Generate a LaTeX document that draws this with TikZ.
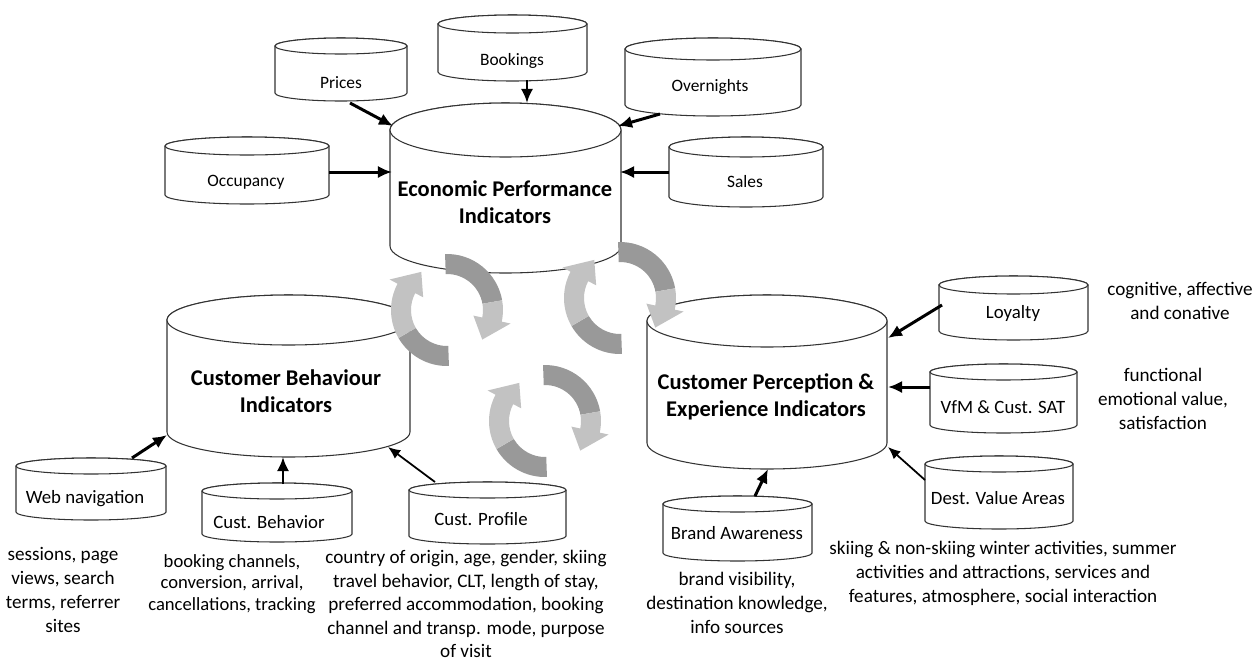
\documentclass[tikz,border=0pt]{standalone}
\usepackage{fontspec}
\setmainfont{Carlito}
\usetikzlibrary{arrows.meta}
\definecolor{darkarr}{gray}{0.6}
\definecolor{lightarr}{gray}{0.76}
\tikzset{
  cyl/.style={draw=black!80, line width=0.6pt, fill=white},
  lbl/.style={font=\fontsize{9.9}{11}\selectfont, inner sep=0pt},
  lblb/.style={font=\fontsize{10.7}{12}\selectfont, inner sep=0pt},
  big/.style={font=\fontsize{12.8}{15.2}\selectfont\bfseries, align=center, inner sep=0pt},
  desc/.style={font=\fontsize{10.9}{13.7}\selectfont, align=center, inner sep=0pt},
  descn/.style={font=\fontsize{10.6}{12.4}\selectfont, align=center, inner sep=0pt},
  desct/.style={font=\fontsize{10.9}{13.4}\selectfont, align=center, inner sep=0pt},
  arr/.style={draw, line width=1.7pt, -{Latex[length=8pt,width=7pt]}},
  thinarr/.style={draw, line width=1pt, -{Latex[length=7pt,width=6pt]}},
}
% #1 name, #2 left, #3 right, #4 top ellipse centre y, #5 bottom ellipse centre y, #6 y radius
\newcommand\mycyl[6]{%
  \pgfmathsetmacro\cylcx{(#2+#3)/2}%
  \pgfmathsetmacro\cylrx{(#3-#2)/2}%
  \path[cyl] (#2,#4) -- (#2,#5) arc[start angle=180, end angle=0, x radius=\cylrx, y radius=#6]
     -- (#3,#4) arc[start angle=0, end angle=-180, x radius=\cylrx, y radius=#6] -- cycle;
  \draw[cyl] (\cylcx,#4) ellipse[x radius=\cylrx, y radius=#6];
  \coordinate (#1) at (\cylcx,#4);
}
% curved block arrow: tail angle, colour split angle, head base angle, tip angle
\newcommand\ribbon[4]{%
  \fill[darkarr] (#1:56) arc[start angle=#1, end angle=#2, radius=56] -- (#2:36)
     arc[start angle=#2, end angle=#1, radius=36] -- cycle;
  \fill[lightarr] (#2:56) arc[start angle=#2, end angle=#3, radius=56] -- (#3:65) -- (#4:46)
     -- (#3:27) -- (#3:36) arc[start angle=#3, end angle=#2, radius=36] -- cycle;
}
\newcommand\cyclepair[2]{%
  \begin{scope}[shift={(#1,#2)}, yscale=-1]
    \ribbon{272}{210}{152}{124}
    \ribbon{92}{10}{-12}{-40}
  \end{scope}}
\begin{document}
\begin{tikzpicture}[x=0.02cm, y=-0.02cm]
\useasboundingbox (0,0) rectangle (1255,664);

% ---------- cylinders ----------
\mycyl{prices}{275}{407}{46}{93}{8}
\mycyl{bookings}{438}{587}{24}{72}{9}
\mycyl{overnights}{625}{801}{49}{105}{11}
\mycyl{occupancy}{165}{329}{146}{195}{9}
\mycyl{sales}{669}{823}{147}{197}{10}
\mycyl{epi}{390}{621}{130}{246}{27}
\mycyl{cbi}{167}{410}{320}{432}{25}
\mycyl{cpe}{647}{887}{321}{443}{26}
\mycyl{loyalty}{939}{1088}{285}{331}{9}
\mycyl{vfm}{930}{1077}{372}{425}{8}
\mycyl{dest}{925}{1073}{464}{521}{8}
\mycyl{brand}{663}{812}{504}{553}{8}
\mycyl{web}{16}{166}{466}{512}{8}
\mycyl{cbeh}{202}{352}{491}{534}{8}
\mycyl{cprof}{409}{566}{490}{536}{8}

% ---------- cylinder labels ----------
\node[lbl] (l-prices) at (341,83) {Prices};
\node[lbl] (l-bookings) at (512,61) {Bookings};
\node[lbl] (l-overnights) at (710,87) {Overnights};
\node[lbl] (l-occupancy) at (246,182) {Occupancy};
\node[lbl] (l-sales) at (745,182) {Sales};
\node[big] (l-epi) at (505,202) {Economic Performance\\Indicators};
\node[big] (l-cbi) at (286,391) {Customer Behaviour\\Indicators};
\node[big] (l-cpe) at (766,397) {Customer Perception \&\\Experience Indicators};
\node[lblb] (l-loyalty) at (1013,313) {Loyalty};
\node[lblb] (l-vfm) at (1003,407) {VfM \& Cust. SAT};
\node[lblb] (l-dest) at (998,498) {Dest. Value Areas};
\node[lblb] (l-brand) at (737,533) {Brand Awareness};
\node[lblb] (l-web) at (85,499) {Web navigation};
\node[lblb] (l-cbeh) at (269,522) {Cust. Behavior};
\node[lblb] (l-cprof) at (481,519) {Cust. Profile};

% ---------- descriptions ----------
\node[desc] (d-loyalty) at (1180,301) {cognitive, affective\\and conative};
\node[desc] (d-vfm) at (1163,399) {functional\\emotional value,\\satisfaction};
\node[desc] (d-dest) at (1003,573) {skiing \& non-skiing winter activities, summer\\activities and attractions, services and\\features, atmosphere, social interaction};
\node[desc] (d-brand) at (737,603) {brand visibility,\\destination knowledge,\\info sources};
\node[desc] (d-web) at (63,590) {sessions, page\\views, search\\terms, referrer\\sites};
\node[descn] (d-cbeh) at (232,584) {booking channels,\\conversion, arrival,\\cancellations, tracking};
\node[desct] (d-cprof) at (466,604) {country of origin, age, gender, skiing\\travel behavior, CLT, length of stay,\\preferred accommodation, booking\\channel and transp. mode, purpose\\of visit};

% ---------- connector end points ----------
\coordinate (prices-o) at (350,103);     \coordinate (epi-a) at (393,126);
\coordinate (bookings-o) at (527,80);    \coordinate (epi-b) at (527,103);
\coordinate (overnights-o) at (660,114); \coordinate (epi-c) at (618,126);
\coordinate (occupancy-o) at (329,172);  \coordinate (epi-d) at (392,172);
\coordinate (sales-o) at (669,172);      \coordinate (epi-e) at (620,172);
\coordinate (web-o) at (132,458);        \coordinate (cbi-a) at (167,435);
\coordinate (cbeh-o) at (283,484);       \coordinate (cbi-b) at (283,457);
\coordinate (cprof-o) at (435,482);      \coordinate (cbi-c) at (388,447);
\coordinate (loyalty-o) at (942,305);    \coordinate (cpe-a) at (888,338);
\coordinate (vfm-o) at (930,387);        \coordinate (cpe-b) at (888,387);
\coordinate (dest-o) at (925,480);       \coordinate (cpe-c) at (888,447);
\coordinate (brand-o) at (755,496);      \coordinate (cpe-d) at (768,469);

% ---------- connectors ----------
\draw[arr] (prices-o) -- (epi-a);
\draw[arr] (bookings-o) -- (epi-b);
\draw[arr] (overnights-o) -- (epi-c);
\draw[arr] (occupancy-o) -- (epi-d);
\draw[arr] (sales-o) -- (epi-e);
\draw[arr] (web-o) -- (cbi-a);
\draw[arr] (cbeh-o) -- (cbi-b);
\draw[thinarr] (cprof-o) -- (cbi-c);
\draw[arr] (loyalty-o) -- (cpe-a);
\draw[arr] (vfm-o) -- (cpe-b);
\draw[thinarr] (dest-o) -- (cpe-c);
\draw[arr] (brand-o) -- (cpe-d);

% ---------- circular arrows ----------
\cyclepair{447}{310}
\cyclepair{620}{298}
\cyclepair{545}{421}
\end{tikzpicture}
\end{document}
